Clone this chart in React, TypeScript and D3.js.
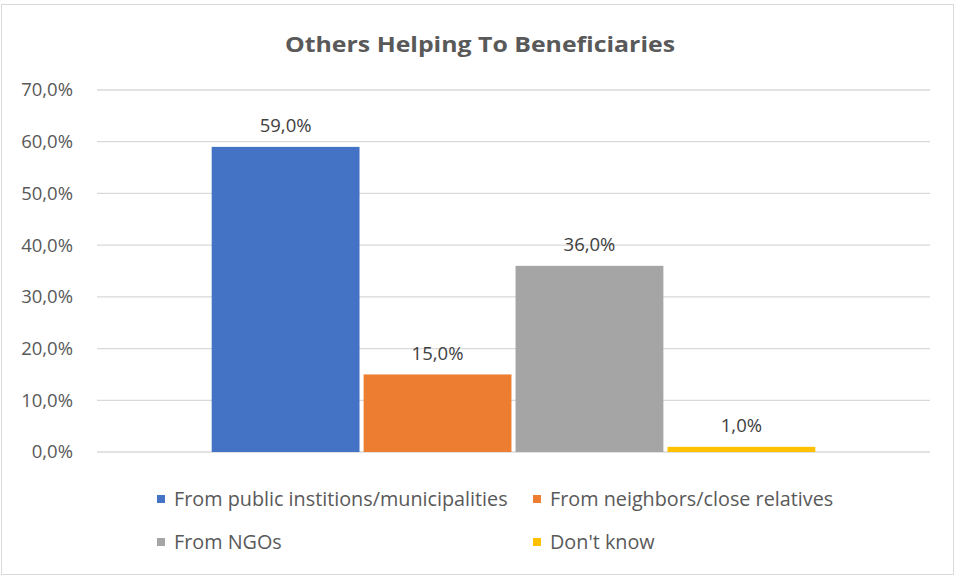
import React from "react";
import * as d3 from "d3";

const title = "Others Helping To Beneficiaries";
const categories = ["Total"];
const seriesNames = [
  "From public institions/municipalities",
  "From neighbors/close relatives",
  "From NGOs",
  "Don't know",
];
const seriesValues = [59, 15, 36, 1];
const seriesColors = ["#4472C4", "#ED7D31", "#A5A5A5", "#FFC000"];
const yTicks = [0, 10, 20, 30, 40, 50, 60, 70];

const W = 956;
const H = 577;
const FONT = "'Open Sans', 'Liberation Sans', sans-serif";

export default function App() {
  const left = 97;
  const right = 930;
  const top = 90;
  const bottom = 452;

  const y = d3.scaleLinear().domain([0, 70]).range([bottom, top]);
  const xCat = d3.scaleBand().domain(categories).range([left, right]).paddingInner(0).paddingOuter(0.19);
  const xSeries = d3
    .scaleBand()
    .domain(seriesNames)
    .range([0, xCat.bandwidth()])
    .paddingInner(0.027)
    .paddingOuter(0);
  const fmt = (v: number) => v.toFixed(1).replace(".", ",") + "%";

  const legendPos = [
    { x: 157, y: 499 },
    { x: 533, y: 499 },
    { x: 157, y: 542 },
    { x: 533, y: 542 },
  ];

  return (
    <svg width={W} height={H} style={{ position: "absolute", left: 0, top: 0 }}>
      <rect x={0} y={0} width={W} height={H} fill="#fff" />
      <rect x={1.5} y={4.5} width={952} height={570} fill="#fff" stroke="#D9D9D9" strokeWidth={1} />
      <text x={480} y={52} textAnchor="middle" fontFamily={FONT} fontSize={22} fontWeight={700} fill="#595959" textLength={390} lengthAdjust="spacingAndGlyphs">
        {title}
      </text>
      {yTicks.map((t) => (
        <g key={t}>
          <line x1={left} x2={right} y1={y(t)} y2={y(t)} stroke="#D9D9D9" strokeWidth={1.3} />
          <text x={73} y={y(t)} dy="0.35em" textAnchor="end" fontFamily={FONT} fontSize={18.5} fill="#595959">
            {fmt(t)}
          </text>
        </g>
      ))}
      {categories.map((c) => (
        <g key={c} transform={`translate(${xCat(c)},0)`}>
          {seriesNames.map((s, i) => {
            const bx = xSeries(s)!;
            const bw = xSeries.bandwidth();
            return (
              <g key={s}>
                <rect x={bx} y={y(seriesValues[i])} width={bw} height={y(0) - y(seriesValues[i])} fill={seriesColors[i]} />
                <text x={bx + bw / 2} y={y(seriesValues[i]) - 21} dy="0.35em" textAnchor="middle" fontFamily={FONT} fontSize={18.5} fill="#404040">
                  {fmt(seriesValues[i])}
                </text>
              </g>
            );
          })}
        </g>
      ))}
      {seriesNames.map((s, i) => (
        <g key={s}>
          <rect x={legendPos[i].x} y={legendPos[i].y - 4} width={8} height={8} fill={seriesColors[i]} />
          <text x={legendPos[i].x + 17} y={legendPos[i].y} dy="0.35em" fontFamily={FONT} fontSize={19.8} fill="#595959">
            {s}
          </text>
        </g>
      ))}
    </svg>
  );
}
